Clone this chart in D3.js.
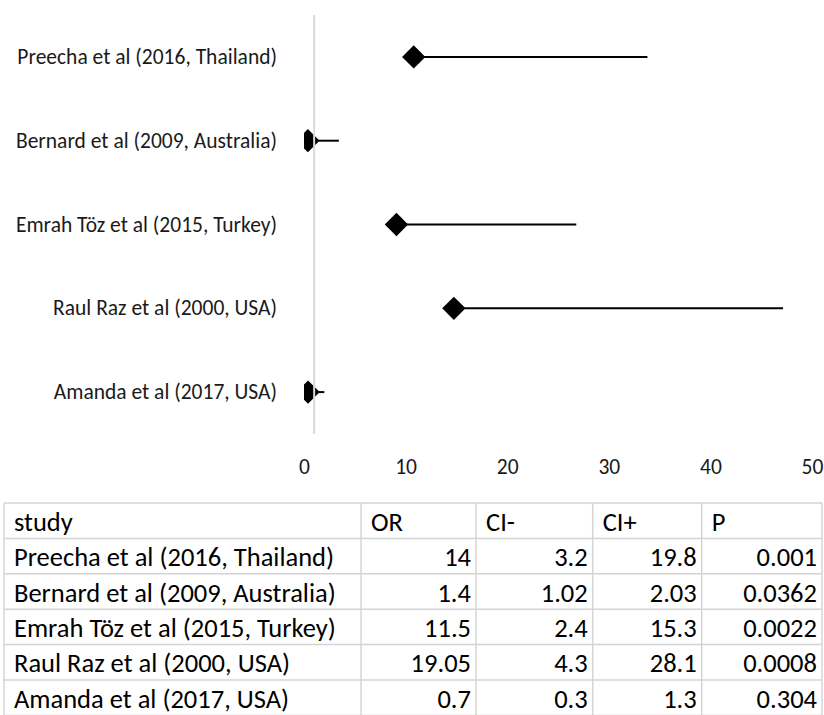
<!DOCTYPE html>
<html>
<head>
<meta charset="utf-8">
<script src="https://cdn.jsdelivr.net/npm/d3@7/dist/d3.min.js"></script>
<style>
  html, body { margin: 0; padding: 0; background: #fff; }
  svg { display: block; }
</style>
</head>
<body>
<svg id="chart" width="824" height="715"></svg>
<script>
// Study data
const studies = [
  "Preecha et al (2016, Thailand)",
  "Bernard et al (2009, Australia)",
  "Emrah Töz et al (2015, Turkey)",
  "Raul Raz et al (2000, USA)",
  "Amanda et al (2017, USA)"
];
const oddsRatios = [14, 1.4, 11.5, 19.05, 0.7];
const ciMinus = [3.2, 1.02, 2.4, 4.3, 0.3];
const ciPlus = [19.8, 2.03, 15.3, 28.1, 1.3];
const pValues = [0.001, 0.0362, 0.0022, 0.0008, 0.304];
const xTicks = [0, 10, 20, 30, 40, 50];
const tableHeaders = ["study", "OR", "CI-", "CI+", "P"];

const svg = d3.select("#chart");
const FONT = "Carlito, Calibri, Lato, 'Open Sans', sans-serif";

// ---- forest plot ----
const plot = { left: 304, right: 812, top: 15, bottom: 434 };
const x = d3.scaleLinear().domain([0, 50]).range([plot.left, plot.right]);
const y = d3.scaleLinear().domain([0.5, 5.5]).range([plot.top, plot.bottom]);

svg.append("defs").append("clipPath").attr("id", "plotClip")
  .append("rect")
  .attr("x", plot.left).attr("y", plot.top)
  .attr("width", plot.right - plot.left).attr("height", plot.bottom - plot.top);

const rows = studies.map((s, i) => ({
  study: s,
  pos: i + 1,
  start: oddsRatios[i] - ciMinus[i],
  end: oddsRatios[i] + ciPlus[i]
}));

const marks = svg.append("g").attr("clip-path", "url(#plotClip)");

marks.selectAll("line.ci").data(rows).join("line")
  .attr("class", "ci")
  .attr("x1", d => x(d.start)).attr("x2", d => x(d.end))
  .attr("y1", d => y(d.pos)).attr("y2", d => y(d.pos))
  .attr("stroke", "#000").attr("stroke-width", 2);

const diamond = d3.symbol().type(d3.symbolSquare).size(272);
marks.selectAll("path.pt").data(rows).join("path")
  .attr("class", "pt")
  .attr("d", diamond)
  .attr("transform", d => `translate(${x(d.start)},${y(d.pos)}) rotate(45)`)
  .attr("fill", "#000");

// reference line at OR = 1
svg.append("line")
  .attr("x1", x(1)).attr("x2", x(1))
  .attr("y1", plot.top).attr("y2", plot.bottom)
  .attr("stroke", "#d9d9d9").attr("stroke-width", 2);

// study labels
svg.append("g").selectAll("text").data(rows).join("text")
  .attr("x", 277).attr("y", d => y(d.pos))
  .attr("text-anchor", "end").attr("dominant-baseline", "central")
  .attr("font-family", FONT).attr("font-size", 21.5).attr("fill", "#1a1a1a")
  .text(d => d.study);

// x axis tick labels (no axis line)
const xAxis = d3.axisBottom(x).tickValues(xTicks).tickSize(0).tickPadding(0).tickFormat(d3.format("d"));
const axisG = svg.append("g").attr("transform", `translate(0,${459})`).call(xAxis);
axisG.select(".domain").remove();
axisG.selectAll("text")
  .attr("font-family", FONT).attr("font-size", 21.5).attr("fill", "#1a1a1a");

// ---- data table ----
const colEdges = [4, 361, 476, 592.7, 701.7, 822];
const rowTop = 503, rowH = 35.4;
const tableRows = studies.map((s, i) => [s, oddsRatios[i], ciMinus[i], ciPlus[i], pValues[i]]);
const table = svg.append("g");

// grid
const nRows = tableRows.length + 1;
d3.range(nRows + 1).forEach(r => {
  table.append("line")
    .attr("x1", colEdges[0]).attr("x2", colEdges[colEdges.length - 1])
    .attr("y1", rowTop + r * rowH).attr("y2", rowTop + r * rowH)
    .attr("stroke", "#d4d4d4").attr("stroke-width", 1.5);
});
colEdges.forEach(cx => {
  table.append("line")
    .attr("x1", cx).attr("x2", cx)
    .attr("y1", rowTop).attr("y2", rowTop + nRows * rowH)
    .attr("stroke", "#d4d4d4").attr("stroke-width", 1.5);
});

const cellText = (val, r, c, leftAlign) => {
  table.append("text")
    .attr("x", leftAlign ? colEdges[c] + 10 : colEdges[c + 1] - 5)
    .attr("y", rowTop + r * rowH + rowH / 2 + 1)
    .attr("text-anchor", leftAlign ? "start" : "end")
    .attr("dominant-baseline", "central")
    .attr("font-family", FONT).attr("font-size", 26.5).attr("fill", "#000")
    .text(val);
};
tableHeaders.forEach((h, c) => cellText(h, 0, c, true));
tableRows.forEach((row, r) => {
  row.forEach((v, c) => cellText(c === 0 ? v : String(v), r + 1, c, c === 0));
});
</script>
</body>
</html>
